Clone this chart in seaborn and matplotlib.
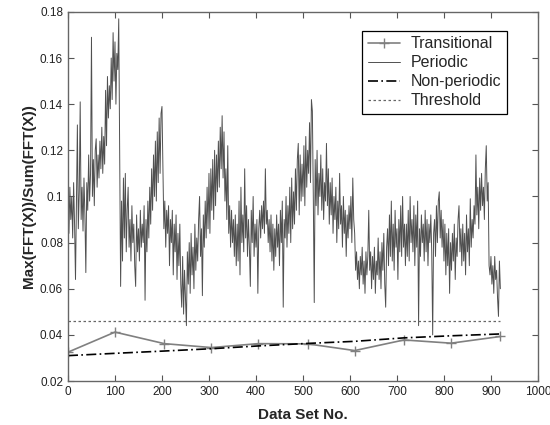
import numpy as np
import pandas as pd
import matplotlib
matplotlib.use('Agg')
import matplotlib.pyplot as plt
import seaborn as sns

# periodic series, every 2 data sets (0..920)
periodic_x = np.arange(0, 921, 2)
periodic_y = [
    0.095, 0.084, 0.104, 0.090, 0.100, 0.082, 0.106, 0.088, 0.064, 0.098, 0.131, 0.086, 0.102, 0.141, 0.090, 0.104, 0.085, 0.108, 0.092, 0.067,
    0.106, 0.094, 0.118, 0.098, 0.110, 0.169, 0.100, 0.116, 0.096, 0.120, 0.125, 0.104, 0.118, 0.108, 0.124, 0.112, 0.130, 0.110, 0.126, 0.114,
    0.146, 0.122, 0.152, 0.134, 0.148, 0.138, 0.160, 0.142, 0.171, 0.150, 0.167, 0.140, 0.162, 0.155, 0.177, 0.120, 0.061, 0.098, 0.072, 0.108,
    0.082, 0.110, 0.076, 0.094, 0.104, 0.078, 0.090, 0.072, 0.096, 0.080, 0.088, 0.070, 0.061, 0.092, 0.076, 0.086, 0.072, 0.094, 0.078, 0.088,
    0.080, 0.096, 0.055, 0.090, 0.076, 0.098, 0.082, 0.104, 0.088, 0.112, 0.094, 0.118, 0.100, 0.124, 0.098, 0.128, 0.106, 0.134, 0.110, 0.136,
    0.139, 0.112, 0.086, 0.098, 0.078, 0.094, 0.084, 0.096, 0.070, 0.090, 0.080, 0.094, 0.066, 0.088, 0.076, 0.092, 0.064, 0.084, 0.070, 0.088,
    0.062, 0.052, 0.074, 0.049, 0.068, 0.056, 0.044, 0.076, 0.062, 0.080, 0.058, 0.084, 0.066, 0.078, 0.060, 0.088, 0.068, 0.082, 0.072, 0.090,
    0.100, 0.074, 0.086, 0.057, 0.092, 0.078, 0.098, 0.082, 0.104, 0.086, 0.110, 0.084, 0.112, 0.094, 0.116, 0.090, 0.120, 0.096, 0.118, 0.102,
    0.124, 0.104, 0.130, 0.112, 0.135, 0.108, 0.128, 0.098, 0.112, 0.090, 0.122, 0.084, 0.096, 0.078, 0.094, 0.080, 0.090, 0.074, 0.092, 0.070,
    0.088, 0.072, 0.098, 0.066, 0.104, 0.080, 0.092, 0.076, 0.112, 0.082, 0.096, 0.074, 0.090, 0.078, 0.061, 0.094, 0.080, 0.100, 0.074, 0.088,
    0.078, 0.090, 0.058, 0.086, 0.094, 0.082, 0.096, 0.086, 0.098, 0.084, 0.112, 0.088, 0.094, 0.080, 0.090, 0.076, 0.092, 0.072, 0.088, 0.068,
    0.086, 0.074, 0.092, 0.078, 0.088, 0.070, 0.094, 0.080, 0.098, 0.052, 0.090, 0.082, 0.100, 0.078, 0.096, 0.084, 0.104, 0.080, 0.108, 0.086,
    0.102, 0.088, 0.112, 0.094, 0.116, 0.123, 0.092, 0.118, 0.098, 0.114, 0.100, 0.122, 0.096, 0.126, 0.104, 0.120, 0.110, 0.132, 0.106, 0.142,
    0.137, 0.100, 0.054, 0.116, 0.096, 0.120, 0.092, 0.110, 0.100, 0.118, 0.094, 0.112, 0.090, 0.106, 0.098, 0.123, 0.096, 0.112, 0.088, 0.106,
    0.092, 0.108, 0.084, 0.100, 0.090, 0.104, 0.080, 0.098, 0.086, 0.110, 0.088, 0.096, 0.078, 0.100, 0.084, 0.094, 0.074, 0.092, 0.082, 0.096,
    0.086, 0.100, 0.080, 0.108, 0.090, 0.084, 0.068, 0.076, 0.064, 0.072, 0.060, 0.074, 0.066, 0.078, 0.062, 0.072, 0.058, 0.076, 0.066, 0.074,
    0.094, 0.068, 0.076, 0.060, 0.074, 0.064, 0.078, 0.058, 0.072, 0.066, 0.082, 0.064, 0.076, 0.060, 0.080, 0.068, 0.084, 0.062, 0.052, 0.078,
    0.086, 0.070, 0.092, 0.074, 0.098, 0.072, 0.088, 0.068, 0.094, 0.078, 0.086, 0.064, 0.090, 0.076, 0.096, 0.074, 0.100, 0.078, 0.088, 0.070,
    0.088, 0.074, 0.094, 0.072, 0.100, 0.080, 0.090, 0.076, 0.096, 0.070, 0.092, 0.078, 0.098, 0.044, 0.086, 0.074, 0.092, 0.080, 0.088, 0.072,
    0.094, 0.076, 0.090, 0.070, 0.088, 0.080, 0.092, 0.076, 0.040, 0.084, 0.090, 0.074, 0.096, 0.080, 0.098, 0.102, 0.082, 0.094, 0.078, 0.090,
    0.072, 0.088, 0.066, 0.084, 0.070, 0.086, 0.058, 0.080, 0.068, 0.084, 0.072, 0.088, 0.064, 0.082, 0.074, 0.090, 0.096, 0.076, 0.086, 0.070,
    0.088, 0.072, 0.084, 0.066, 0.092, 0.076, 0.086, 0.070, 0.099, 0.078, 0.090, 0.082, 0.096, 0.088, 0.118, 0.092, 0.104, 0.086, 0.108, 0.094,
    0.110, 0.096, 0.104, 0.090, 0.112, 0.122, 0.098, 0.106, 0.070, 0.066, 0.074, 0.062, 0.070, 0.058, 0.074, 0.064, 0.068, 0.056, 0.048, 0.072,
    0.060,
]

trans_x = [0, 100, 205, 305, 405, 510, 610, 715, 815, 920]
trans_y = [0.0325, 0.0412, 0.0362, 0.0345, 0.0362, 0.0361, 0.0332, 0.0378, 0.0364, 0.0393]

nonper_x = [0, 100, 205, 305, 405, 510, 610, 715, 815, 920]
nonper_y = [0.0310, 0.0320, 0.0330, 0.0340, 0.0352, 0.0363, 0.0372, 0.0387, 0.0396, 0.0404]

thresh_x = [0, 920]
thresh_y = [0.046, 0.046]

sns.set_style('ticks')
plt.rcParams['font.family'] = ['Liberation Sans', 'DejaVu Sans']

fig = plt.figure(figsize=(5.5, 4.25), dpi=100)
ax = fig.add_axes([0.1236, 0.1035, 0.8545, 0.8685])

sns.lineplot(x=trans_x, y=trans_y, ax=ax, color='#808080', lw=1.2, marker='+',
             markersize=7, markeredgewidth=1.0, markeredgecolor='#808080',
             label='Transitional', estimator=None)
sns.lineplot(x=periodic_x, y=periodic_y, ax=ax, color='#505050', lw=0.7,
             label='Periodic', estimator=None)
sns.lineplot(x=nonper_x, y=nonper_y, ax=ax, color='black', lw=1.2,
             linestyle=(0, (6, 2, 1, 2)), label='Non-periodic', estimator=None)
sns.lineplot(x=thresh_x, y=thresh_y, ax=ax, color='#666666', lw=0.9,
             linestyle=(0, (2, 2)), label='Threshold', estimator=None)

ax.set_xlim(0, 1000)
ax.set_ylim(0.02, 0.18)
ax.set_xticks(np.arange(0, 1001, 100))
ax.set_yticks(np.arange(0.02, 0.181, 0.02))
ax.yaxis.set_major_formatter(matplotlib.ticker.FormatStrFormatter('%g'))
ax.tick_params(direction='in', top=True, right=True, length=4, width=0.8,
               color='#555555', labelsize=8.5, labelcolor='#222222')
for s in ax.spines.values():
    s.set_color('#666666')
    s.set_linewidth(1.0)

ax.set_xlabel('Data Set No.', fontsize=11, fontweight='bold', labelpad=7)
ax.set_ylabel('Max(FFT(X))/Sum(FFT(X))', fontsize=11, fontweight='bold', labelpad=3)

leg = ax.legend(loc='upper right', bbox_to_anchor=(0.934, 0.9485), fontsize=11.5,
                frameon=True, fancybox=False, framealpha=1, edgecolor='black',
                handlelength=2.0, labelspacing=0.25, borderpad=0.35,
                handletextpad=0.7, borderaxespad=0)
leg.get_frame().set_linewidth(0.9)

fig.savefig('out.png', dpi=100)
